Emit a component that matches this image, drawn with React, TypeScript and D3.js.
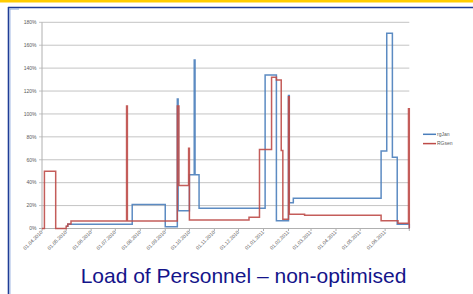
import React, { useEffect, useRef } from "react";
import * as d3 from "d3";

// tick labels of the date axis (the end tick 01.07.2011 has no label)
const tickLabels = [
  "01.04.2010", "01.05.2010", "01.06.2010", "01.07.2010", "01.08.2010",
  "01.09.2010", "01.10.2010", "01.11.2010", "01.12.2010", "01.01.2011",
  "01.02.2011", "01.03.2011", "01.04.2011", "01.05.2011", "01.06.2011",
];
const yTicks = [0, 20, 40, 60, 80, 100, 120, 140, 160, 180];

const seriesNames = ["rgJan", "RGsen"];

// blue series: step changes (date, % load)
const blueDates = [
  "01.05.2010", "03.05.2010", "22.07.2010", "01.09.2010", "16.09.2010",
  "17.09.2010", "01.10.2010", "07.10.2010", "08.10.2010", "13.10.2010",
  "03.01.2011", "17.01.2011", "01.02.2011", "02.02.2011", "07.02.2011",
  "27.05.2011", "03.06.2011", "10.06.2011", "16.06.2011", "01.07.2011",
];
const blueValues = [
  2, 3.7, 21, 1.6, 113,
  15.5, 47, 147, 47, 17.6,
  134, 6.8, 116, 22.5, 26.4,
  67.7, 170.5, 62.2, 3.7, 0,
];

// red series
const redDates = [
  "01.04.2010", "04.04.2010", "18.04.2010", "01.05.2010", "03.05.2010",
  "07.05.2010", "15.07.2010", "16.07.2010", "16.09.2010", "18.09.2010",
  "30.09.2010", "01.10.2010", "14.12.2010", "27.12.2010", "11.01.2011",
  "17.01.2011", "23.01.2011", "25.01.2011", "01.02.2011", "02.02.2011",
  "21.02.2011", "27.05.2011", "17.06.2011", "30.06.2011", "01.07.2011",
];
const redValues = [
  0, 50, 0, 2, 4,
  6.5, 107, 6.5, 107, 37.5,
  70, 7.4, 9.8, 69, 132,
  129.7, 68, 8, 115, 12.4,
  11.5, 6.8, 4.5, 104.6, 0,
];

const colors = ["#4a7ebb", "#be4b48"];

const Chart = () => {
  const ref = useRef(null);

  useEffect(() => {
    const svg = d3.select(ref.current);
    svg.selectAll("*").remove();

    const parse = d3.timeParse("%d.%m.%Y");
    const x = d3
      .scaleTime()
      .domain([parse("01.04.2010")!, parse("01.07.2011")!])
      .range([42, 409.3]);
    const y = d3.scaleLinear().domain([0, 180]).range([228.5, 22.3]);

    // frame of the slide
    svg.append("rect").attr("x", 0).attr("y", 0).attr("width", 473).attr("height", 2.5).attr("fill", "#ffcc00");
    svg.append("line").attr("x1", 8).attr("x2", 473).attr("y1", 7.5).attr("y2", 7.5)
      .attr("stroke", "#1f3c96").attr("stroke-width", 1.6);
    svg.append("line").attr("x1", 8.5).attr("x2", 8.5).attr("y1", 7).attr("y2", 294)
      .attr("stroke", "#1f3c96").attr("stroke-width", 1.6);
    svg.append("line").attr("x1", 9.5).attr("x2", 19).attr("y1", 9).attr("y2", 9)
      .attr("stroke", "#8aa6dc").attr("stroke-width", 1);
    svg.append("line").attr("x1", 10).attr("x2", 10).attr("y1", 9).attr("y2", 294)
      .attr("stroke", "#8aa6dc").attr("stroke-width", 0.8);

    // gridlines + y labels
    const grid = svg.append("g");
    yTicks.forEach((t) => {
      grid.append("line")
        .attr("x1", 39).attr("x2", 409.3)
        .attr("y1", y(t)).attr("y2", y(t))
        .attr("stroke", t === 0 ? "#b0b0b0" : "#c4c4c4")
        .attr("stroke-width", 1);
      grid.append("text")
        .attr("x", 36.5).attr("y", y(t) + 1.8)
        .attr("text-anchor", "end")
        .attr("font-family", "Liberation Sans, Arial, sans-serif")
        .attr("font-size", 5)
        .attr("fill", "#595959")
        .text(`${t}%`);
    });
    grid.append("line")
      .attr("x1", 42).attr("x2", 42).attr("y1", y(180)).attr("y2", y(0))
      .attr("stroke", "#b0b0b0");

    // x ticks
    const monthTicks = x.ticks(d3.timeMonth.every(1)!);
    monthTicks.forEach((d) => {
      grid.append("line")
        .attr("x1", x(d)).attr("x2", x(d))
        .attr("y1", y(0)).attr("y2", y(0) + 2.5)
        .attr("stroke", "#b0b0b0");
    });
    tickLabels.forEach((lab) => {
      const px = x(parse(lab)!);
      grid.append("text")
        .attr("transform", `translate(${px + 1},${y(0) + 4}) rotate(-45)`)
        .attr("text-anchor", "end")
        .attr("font-family", "Liberation Sans, Arial, sans-serif")
        .attr("font-size", 5)
        .attr("fill", "#595959")
        .text(lab);
    });

    // series
    const line = d3
      .line<[Date, number]>()
      .x((d) => x(d[0]))
      .y((d) => y(d[1]))
      .curve(d3.curveStepAfter);

    const series = [
      blueDates.map((d, i) => [parse(d)!, blueValues[i]] as [Date, number]),
      redDates.map((d, i) => [parse(d)!, redValues[i]] as [Date, number]),
    ];
    // red drawn last, it sits over blue in the reference
    [0, 1].forEach((i) => {
      svg.append("path")
        .attr("d", line(series[i]) as string)
        .attr("fill", "none")
        .attr("stroke", colors[i])
        .attr("stroke-width", 1.5)
        .attr("stroke-opacity", 0.9);
    });

    // legend
    seriesNames.forEach((name, i) => {
      const ly = 134.3 + i * 9.3;
      svg.append("line")
        .attr("x1", 423).attr("x2", 436)
        .attr("y1", ly).attr("y2", ly)
        .attr("stroke", colors[i]).attr("stroke-width", 1.5);
      svg.append("text")
        .attr("x", 437).attr("y", ly + 1.8)
        .attr("font-family", "Liberation Sans, Arial, sans-serif")
        .attr("font-size", 5)
        .attr("fill", "#595959")
        .text(name);
    });

    // title
    svg.append("text")
      .attr("x", 243.5).attr("y", 283)
      .attr("text-anchor", "middle")
      .attr("font-family", "Liberation Sans, Arial, sans-serif")
      .attr("font-size", 21)
      .attr("fill", "#14148a")
      .text("Load of Personnel \u2013 non-optimised");
  }, []);

  return (
    <svg
      ref={ref}
      width={473}
      height={294}
      style={{ position: "absolute", left: 0, top: 0, background: "#fff" }}
    />
  );
};

function App() {
  return (
    <div>
      <Chart />
    </div>
  );
}

export default App;
